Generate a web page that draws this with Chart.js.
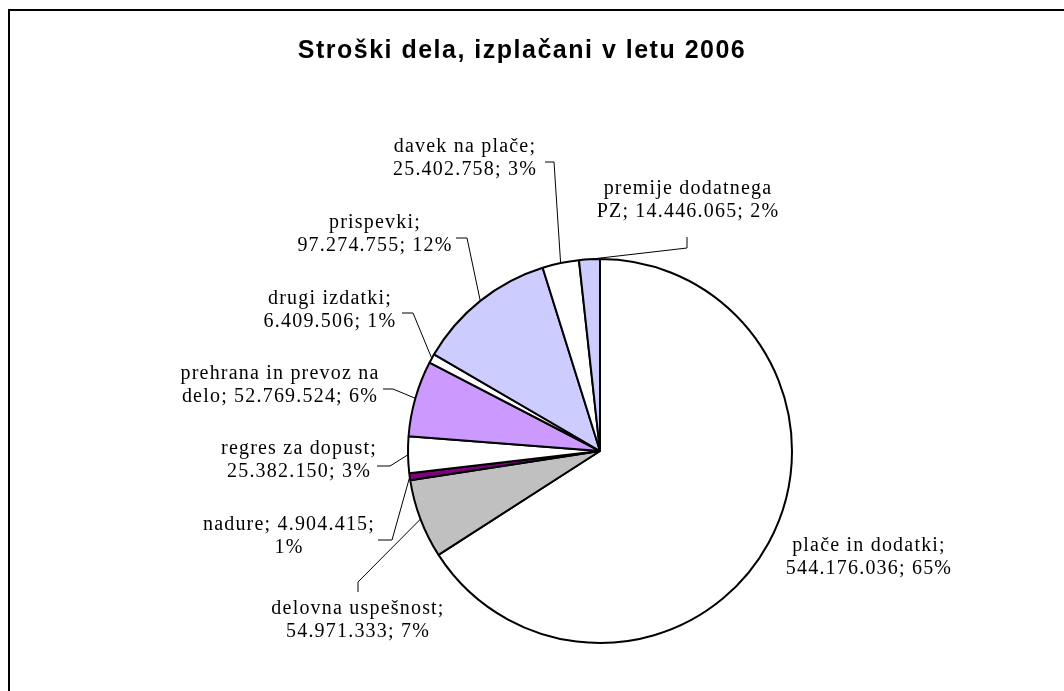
<!DOCTYPE html>
<html>
<head>
<meta charset="utf-8">
<script src="https://cdn.jsdelivr.net/npm/chart.js@4.4.1/dist/chart.umd.min.js"></script>
<style>
  html, body { margin: 0; padding: 0; background: #fff; }
  #wrap { position: relative; width: 1064px; height: 691px; }
</style>
</head>
<body>
<div id="wrap"><canvas id="pie" width="1064" height="691"></canvas></div>
<script>
'use strict';

// data, clockwise from 12 o'clock
const categories = ['plače in dodatki', 'delovna uspešnost', 'nadure', 'regres za dopust',
  'prehrana in prevoz na delo', 'drugi izdatki', 'prispevki', 'davek na plače', 'premije dodatnega PZ'];
const values = [544176036, 54971333, 4904415, 25382150, 52769524, 6409506, 97274755, 25402758, 14446065];
const percents = [65, 7, 1, 3, 6, 1, 12, 3, 2];   // as printed on the labels
const sliceColors = ['#FFFFFF', '#C0C0C0', '#800080', '#FFFFFF', '#CC99FF', '#FFFFFF', '#CCCCFF', '#FFFFFF', '#CCCCFF'];
const titleText = 'Stroški dela, izplačani v letu 2006';

// how many words go on the first label line
const firstLineWords = [3, 2, 2, 3, 4, 2, 1, 3, 2];

// label placement: text centre (first line) and leader path ending at the slice
const labelLayout = [
  { x: 869, y: 546, path: [] },
  { x: 358, y: 609, path: [[358, 592], [358, 582]] },
  { x: 289, y: 525, path: [[378, 540], [392, 540]] },
  { x: 299, y: 449, path: [[377, 466], [390, 466]] },
  { x: 280, y: 374, path: [[383, 389], [393, 389]] },
  { x: 330, y: 299, path: [[402, 313], [413, 313]] },
  { x: 375, y: 223, path: [[456, 238], [467, 238]] },
  { x: 465, y: 147, path: [[545, 162], [554, 162]] },
  { x: 688, y: 189, path: [[687, 237], [687, 248]] },
];

const fmt = (n) => String(n).replace(/\B(?=(\d{3})+(?!\d))/g, '.');

function labelLines(i) {
  const words = `${categories[i]}; ${fmt(values[i])}; ${percents[i]}%`.split(' ');
  return [words.slice(0, firstLineWords[i]).join(' '), words.slice(firstLineWords[i]).join(' ')];
}

const decor = {
  id: 'decor',
  afterDraw(chart) {
    const ctx = chart.ctx;
    ctx.save();

    // outer frame
    ctx.strokeStyle = '#000';
    ctx.lineWidth = 2;
    ctx.strokeRect(9, 10, 1100, 720);

    // title
    ctx.fillStyle = '#000';
    ctx.font = 'bold 25px "Liberation Sans", Arial, sans-serif';
    ctx.letterSpacing = '1.5px';
    ctx.textAlign = 'center';
    ctx.textBaseline = 'middle';
    ctx.fillText(titleText, 522, 51);

    // labels + leader lines
    ctx.font = '20px "Liberation Serif", "Times New Roman", serif';
    ctx.letterSpacing = '1.2px';
    const meta = chart.getDatasetMeta(0);
    meta.data.forEach((arc, i) => {
      const p = arc.getProps(['x', 'y', 'startAngle', 'endAngle', 'outerRadius'], true);
      const mid = (p.startAngle + p.endAngle) / 2;
      const ax = p.x + Math.cos(mid) * p.outerRadius;
      const ay = p.y + Math.sin(mid) * p.outerRadius;
      const lay = labelLayout[i];

      if (lay.path.length) {
        ctx.beginPath();
        ctx.lineWidth = 1;
        ctx.strokeStyle = '#000';
        ctx.moveTo(lay.path[0][0], lay.path[0][1]);
        lay.path.slice(1).forEach(pt => ctx.lineTo(pt[0], pt[1]));
        ctx.lineTo(ax, ay);
        ctx.stroke();
      }

      const lines = labelLines(i);
      lines.forEach((t, k) => ctx.fillText(t, lay.x, lay.y + k * 23));
    });

    ctx.restore();
  }
};

new Chart(document.getElementById('pie'), {
  type: 'pie',
  data: {
    labels: categories,
    datasets: [{
      data: values,
      backgroundColor: sliceColors,
      borderColor: '#000',
      borderWidth: 2,
    }],
  },
  options: {
    responsive: false,
    animation: false,
    events: [],
    layout: { padding: { left: 407, right: 271, top: 258, bottom: 47 } },
    plugins: { legend: { display: false }, tooltip: { enabled: false }, title: { display: false } },
  },
  plugins: [decor],
});
</script>
</body>
</html>
